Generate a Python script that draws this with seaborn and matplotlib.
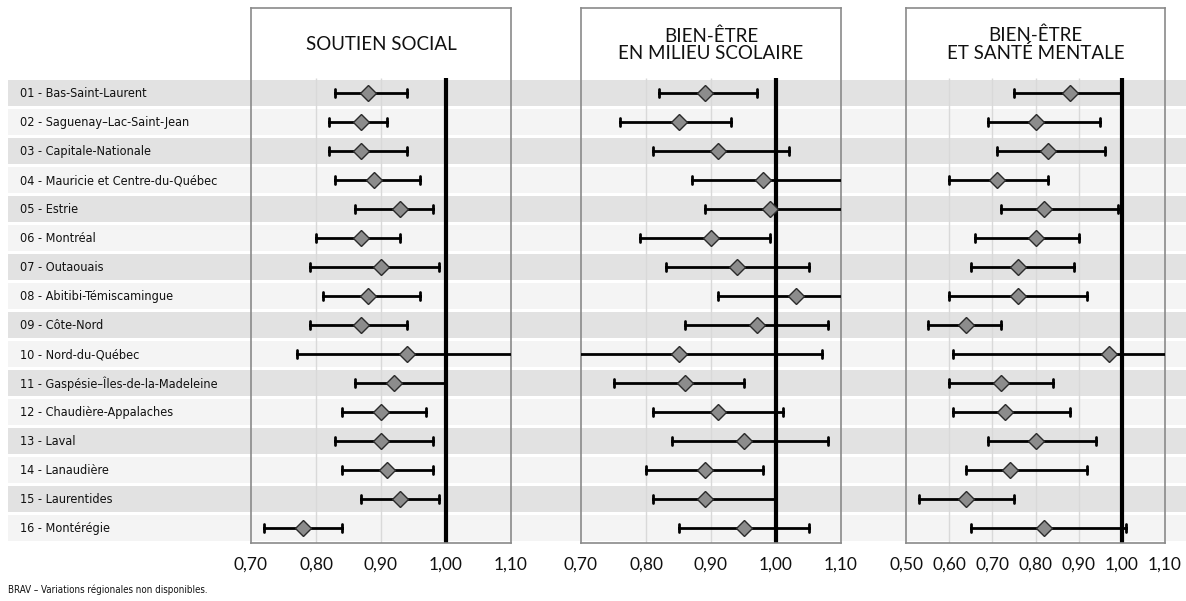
import numpy as np
import pandas as pd
import matplotlib
matplotlib.use("Agg")
import matplotlib.pyplot as plt
import matplotlib.transforms as mtrans
import seaborn as sns

regions = [
    "01 - Bas-Saint-Laurent",
    "02 - Saguenay\u2013Lac-Saint-Jean",
    "03 - Capitale-Nationale",
    "04 - Mauricie et Centre-du-Québec",
    "05 - Estrie",
    "06 - Montréal",
    "07 - Outaouais",
    "08 - Abitibi-Témiscamingue",
    "09 - Côte-Nord",
    "10 - Nord-du-Québec",
    "11 - Gaspésie\u2013Îles-de-la-Madeleine",
    "12 - Chaudière-Appalaches",
    "13 - Laval",
    "14 - Lanaudière",
    "15 - Laurentides",
    "16 - Montérégie",
]

titles = ["SOUTIEN SOCIAL", "BIEN-ÊTRE\nEN MILIEU SCOLAIRE", "BIEN-ÊTRE\nET SANTÉ MENTALE"]

soutien_est = [0.88, 0.87, 0.87, 0.89, 0.93, 0.87, 0.90, 0.88, 0.87, 0.94, 0.92, 0.90, 0.90, 0.91, 0.93, 0.78]
soutien_lo = [0.83, 0.82, 0.82, 0.83, 0.86, 0.80, 0.79, 0.81, 0.79, 0.77, 0.86, 0.84, 0.83, 0.84, 0.87, 0.72]
soutien_hi = [0.94, 0.91, 0.94, 0.96, 0.98, 0.93, 0.99, 0.96, 0.94, 1.16, 1.00, 0.97, 0.98, 0.98, 0.99, 0.84]

scolaire_est = [0.89, 0.85, 0.91, 0.98, 0.99, 0.90, 0.94, 1.03, 0.97, 0.85, 0.86, 0.91, 0.95, 0.89, 0.89, 0.95]
scolaire_lo = [0.82, 0.76, 0.81, 0.87, 0.89, 0.79, 0.83, 0.91, 0.86, 0.65, 0.75, 0.81, 0.84, 0.80, 0.81, 0.85]
scolaire_hi = [0.97, 0.93, 1.02, 1.14, 1.14, 0.99, 1.05, 1.16, 1.08, 1.07, 0.95, 1.01, 1.08, 0.98, 1.00, 1.05]

mentale_est = [0.88, 0.80, 0.83, 0.71, 0.82, 0.80, 0.76, 0.76, 0.64, 0.97, 0.72, 0.73, 0.80, 0.74, 0.64, 0.82]
mentale_lo = [0.75, 0.69, 0.71, 0.60, 0.72, 0.66, 0.65, 0.60, 0.55, 0.61, 0.60, 0.61, 0.69, 0.64, 0.53, 0.65]
mentale_hi = [1.00, 0.95, 0.96, 0.83, 0.99, 0.90, 0.89, 0.92, 0.72, 1.18, 0.84, 0.88, 0.94, 0.92, 0.75, 1.01]

panel_xlim = [(0.70, 1.10), (0.70, 1.10), (0.50, 1.10)]
panel_ticks = [
    [0.70, 0.80, 0.90, 1.00, 1.10],
    [0.70, 0.80, 0.90, 1.00, 1.10],
    [0.50, 0.60, 0.70, 0.80, 0.90, 1.00, 1.10],
]
footnote = "BRAV \u2013 Variations régionales non disponibles."

sns.set_theme(style="white")
plt.rcParams["font.family"] = ["Lato", "DejaVu Sans"]

W, H = 1186, 601
fig = plt.figure(figsize=(W / 100, H / 100), dpi=100)
fig.patch.set_facecolor("white")

top_px, band_top_px, bottom_px = 8, 78.5, 542.5
n = len(regions)
row_px = (bottom_px - band_top_px) / n
y_top = -0.5 - (band_top_px - top_px) / row_px
ylims = (n - 0.5, y_top)


def fig_rect(x0, x1):
    return [x0 / W, (H - bottom_px) / H, (x1 - x0) / W, (bottom_px - top_px) / H]


# background bands and labels
bg = fig.add_axes(fig_rect(8, W), zorder=0)
bg.set_xlim(0, W - 8)
bg.set_ylim(*ylims)
bg.axis("off")
for i, reg in enumerate(regions):
    col = "#e2e2e2" if i % 2 == 0 else "#f4f4f4"
    bg.axhspan(i - 0.46, i + 0.46, color=col, lw=0)
    bg.text(12, i + 0.03, reg, va="center", ha="left", fontsize=9.1,
            family=["DejaVu Sans"], fontstretch="condensed", color="#111111")

panels = [
    (251, 511, soutien_lo, soutien_est, soutien_hi),
    (581, 841, scolaire_lo, scolaire_est, scolaire_hi),
    (906, 1165, mentale_lo, mentale_est, mentale_hi),
]

for k, (x0, x1, lo, est, hi) in enumerate(panels):
    ax = fig.add_axes(fig_rect(x0, x1), zorder=2)
    ax.set_facecolor("none")
    df = pd.DataFrame({
        "region": np.repeat(regions, 3),
        "value": np.column_stack([lo, est, hi]).ravel(),
    })
    xmin, xmax = panel_xlim[k]
    for t in panel_ticks[k][1:-1]:
        if abs(t - 1.0) > 1e-9:
            ax.vlines(t, -0.5, n - 0.5, color="#d9d9d9", lw=1.0, zorder=1)
    ax.vlines(1.0, -0.5, n - 0.5, color="black", lw=3.0, zorder=2)
    sns.pointplot(
        data=df, x="value", y="region", order=regions,
        estimator="median", errorbar=lambda v: (v.min(), v.max()),
        linestyle="none", marker="D", markersize=8.0,
        markerfacecolor="#8c8c8c", markeredgecolor="#2a2a2a", markeredgewidth=1.0,
        color="black", capsize=0.26,
        err_kws={"color": "black", "linewidth": 2.0, "zorder": 3},
        zorder=5, ax=ax,
    )
    ax.set_xlim(xmin, xmax)
    ax.set_ylim(*ylims)
    ax.set_yticks([])
    ax.set_ylabel("")
    ax.set_xlabel("")
    ax.set_xticks(panel_ticks[k])
    ax.set_xticklabels([f"{t:.2f}".replace(".", ",") for t in panel_ticks[k]],
                       fontsize=12.5, color="#111111")
    ax.tick_params(axis="x", length=0, pad=10)
    for sp in ax.spines.values():
        sp.set_visible(True)
        sp.set_color("#8a8a8a")
        sp.set_linewidth(1.2)
    ax.text(0.5, (y_top - 0.5) / 2 + 0.05, titles[k], ha="center", va="center",
            fontsize=13.5, color="#111111", linespacing=1.0,
            transform=mtrans.blended_transform_factory(ax.transAxes, ax.transData))

fig.text(8 / W, 1 - 590 / H, footnote, ha="left", va="center", fontsize=7.0,
         family=["DejaVu Sans"], fontstretch="condensed", color="#111111")

fig.savefig("out.png", dpi=100, facecolor="white")
